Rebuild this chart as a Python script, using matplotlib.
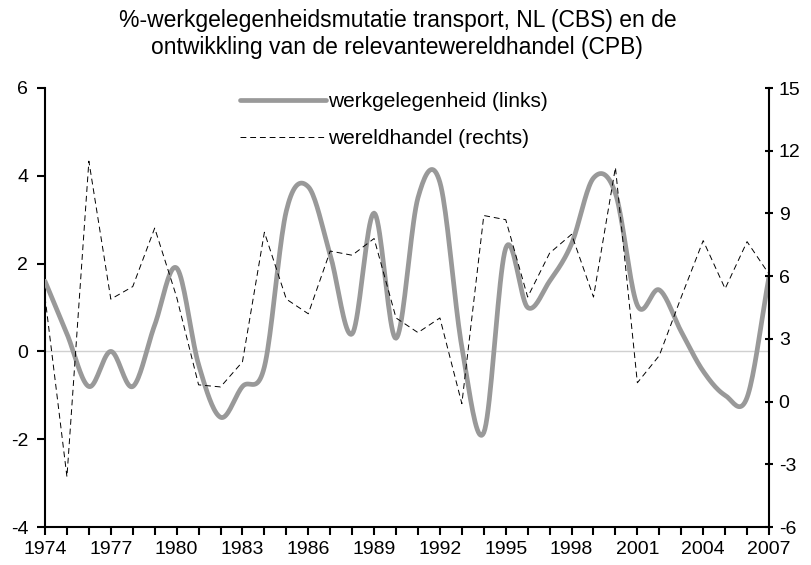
import numpy as np
import matplotlib
matplotlib.use('Agg')
import matplotlib.pyplot as plt

plt.rcParams['font.family'] = ['Liberation Sans', 'DejaVu Sans']
plt.rcParams['axes.unicode_minus'] = False

# data
years = list(range(1974, 2008))
werk = [1.6, 0.4, -0.8, 0.0, -0.8, 0.6, 1.9, -0.3, -1.5, -0.8, -0.35, 3.2,
        3.75, 2.2, 0.4, 3.15, 0.3, 3.5, 3.85, 0.1, -1.85, 2.35, 1.0, 1.6,
        2.45, 3.95, 3.6, 1.05, 1.4, 0.45, -0.45, -1.0, -1.05, 1.7]
wereld = [5.0, -3.6, 11.5, 4.9, 5.5, 8.3, 5.0, 0.8, 0.7, 1.9, 8.1, 4.9,
          4.2, 7.2, 7.0, 7.8, 4.0, 3.3, 4.0, -0.1, 8.9, 8.7, 5.0, 7.1,
          8.0, 5.0, 11.2, 0.9, 2.2, 5.0, 7.7, 5.4, 7.65, 6.1]

title = ('%-werkgelegenheidsmutatie transport, NL (CBS) en de\n'
         'ontwikkling van de relevantewereldhandel (CPB)')


# smoothed line like excel (catmull-rom)
def smooth(x, y, n=20):
    x = np.asarray(x, float)
    y = np.asarray(y, float)
    px = np.concatenate([[2 * x[0] - x[1]], x, [2 * x[-1] - x[-2]]])
    py = np.concatenate([[2 * y[0] - y[1]], y, [2 * y[-1] - y[-2]]])
    xs, ys = [], []
    t = np.linspace(0, 1, n, endpoint=False)
    for i in range(1, len(px) - 2):
        for p, out in ((px, xs), (py, ys)):
            p0, p1, p2, p3 = p[i - 1], p[i], p[i + 1], p[i + 2]
            out.extend(0.5 * ((2 * p1) + (-p0 + p2) * t +
                              (2 * p0 - 5 * p1 + 4 * p2 - p3) * t ** 2 +
                              (-p0 + 3 * p1 - 3 * p2 + p3) * t ** 3))
    xs.append(x[-1])
    ys.append(y[-1])
    return xs, ys


fig = plt.figure(figsize=(8.11, 5.65), dpi=100)
ax = fig.add_axes([45 / 811, 1 - 527 / 565, 724 / 811, 439 / 565])
ax2 = ax.twinx()

ax.axhline(0, color='#d0d0d0', linewidth=1, zorder=1)
sx, sy = smooth(years, werk)
l1, = ax.plot(sx, sy, color='#999999', linewidth=3.4, solid_capstyle='round',
              label='werkgelegenheid (links)', zorder=3)
l2, = ax2.plot(years, wereld, color='black', linewidth=0.7, dashes=(6, 4),
               label='wereldhandel (rechts)')

ax.set_xlim(1974, 2007)
ax.set_ylim(-4, 6)
ax2.set_ylim(-6, 15)
ax.set_yticks(range(-4, 7, 2))
ax2.set_yticks(range(-6, 16, 3))
ax.set_xticks(years)
ax.set_xticklabels([str(y) if (y - 1974) % 3 == 0 else '' for y in years])

for a in (ax, ax2):
    a.spines['top'].set_visible(False)
    for s in a.spines.values():
        s.set_linewidth(1.5)
ax.spines['right'].set_visible(False)
ax2.spines['left'].set_visible(False)
ax2.spines['bottom'].set_visible(False)

ax.tick_params(axis='both', labelsize=14, width=1.5, length=6, direction='out', pad=4)
ax.tick_params(axis='y', pad=6)
ax2.tick_params(axis='y', labelsize=14, width=1.5, length=6, direction='inout', pad=4)

fig.text(0.49, 1 - 9 / 565, title, fontsize=16.5, ha='center', va='top', linespacing=1.2)

fig.legend(handles=[l1, l2], loc='upper left', bbox_to_anchor=(230 / 811, 1 - 82 / 565),
           frameon=False, fontsize=15, handlelength=4.1, handletextpad=0.1,
           labelspacing=0.85, borderpad=0)

fig.savefig('out.png', dpi=100)
